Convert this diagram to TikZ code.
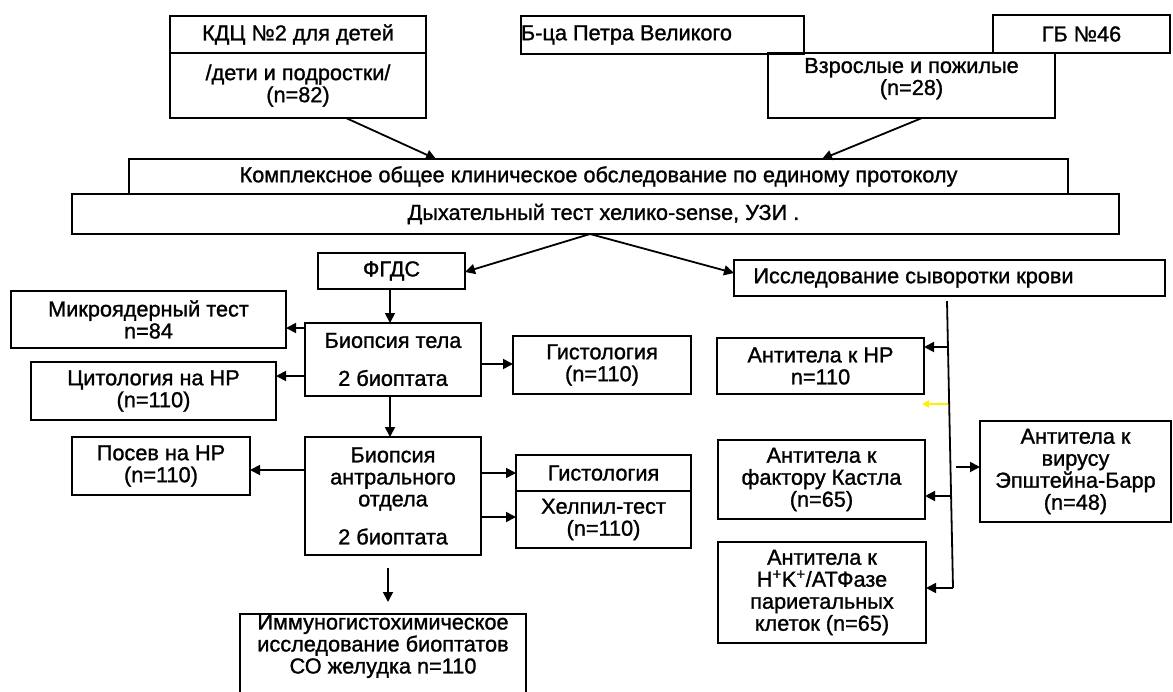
\documentclass[tikz,border=0pt]{standalone}
\usepackage{fontspec}
\setmainfont{Liberation Sans}
\newfontfamily\heavy{Liberation Sans}[BoldFont=Liberation Sans, BoldFeatures={FakeBold=1.2}]
\usetikzlibrary{arrows.meta}
\tikzset{
  box/.style={draw, line width=2pt, inner sep=0pt, outer sep=0pt, align=center,
    font=\heavy\bfseries\fontsize{21.7}{22}\selectfont},
  arr/.style={line width=1.8pt, -{Triangle[length=10pt,width=10pt]}},
  yarr/.style={line width=1.8pt, draw={rgb,255:red,255;green,240;blue,0}, -{Triangle[length=7pt,width=7pt]}},
}
\newcommand\mybox[7][]{%
  \pgfmathsetmacro\bw{#3-#2}\pgfmathsetmacro\bh{#5-#4}%
  \pgfmathsetmacro\bcx{(#2+#3)/2}\pgfmathsetmacro\bcy{-(#4+#5)/2}%
  \node[box,minimum width=\bw pt,minimum height=\bh pt,#1] (#6) at (\bcx pt,\bcy pt) {#7};}
\begin{document}
\begin{tikzpicture}[x=1pt,y=1pt]
\useasboundingbox (0,0) rectangle (1173,-691);
\clip (0,0) rectangle (1173,-691);
% top
\mybox{170}{426}{16}{53}{kdch}{КДЦ №2 для детей}
\mybox{170}{426}{53}{118}{kdcb}{/дети и подростки/\\(n=82)}
\mybox{523}{802}{16}{54}{bpv}{Б-ца Петра Великого\hspace{72pt}}
\mybox{993}{1170}{15}{53}{gb}{ГБ №46}
\mybox{768}{1055}{53}{118}{vzr}{Взрослые и пожилые\\(n=28)\\[-4pt]\mbox{}}
\mybox{129}{1068}{159}{194}{kompl}{Комплексное общее клиническое обследование по единому протоколу}
\mybox{72}{1119}{194}{234}{dyh}{\hspace{16pt}Дыхательный тест хелико-sense, УЗИ .}
% left column
\mybox{318}{465}{253}{289}{fgds}{ФГДС}
\mybox{11}{286}{291}{348}{mikro}{Микроядерный тест\\n=84}
\mybox{305}{481}{323}{396}{biot}{Биопсия тела\\[16pt]2 биоптата}
\mybox{31}{276}{362}{420}{cyto}{Цитология на HP\\(n=110)}
\mybox{513}{691}{336}{394}{hist1}{Гистология\\(n=110)}
\mybox{72}{250}{437}{495}{posev}{Посев на HP\\(n=110)}
\mybox{305}{481}{437}{555}{bioa}{Биопсия\\антрального\\отдела\\[16pt]2 биоптата}
\mybox{516}{691}{455}{491}{hist2}{Гистология}
\mybox{516}{691}{491}{548}{helpil}{Хелпил-тест\\(n=110)}
\mybox{240}{526}{614}{700}{immuno}{Иммуногистохимическое\\исследование биоптатов\\СО желудка n=110\\[4pt]\mbox{}}
% right column
\mybox{734}{1165}{260}{296}{issl}{Исследование сыворотки крови\hspace{72pt}}
\mybox{717}{924}{338}{394}{ahp}{Антитела к HP\\n=110}
\mybox{718}{925}{440}{519}{akastl}{Антитела к\\фактору Кастла\\(n=65)}
\mybox{980}{1171}{421}{522}{aeb}{Антитела к\\вирусу\\Эпштейна-Барр\\(n=48)}
\mybox{718}{926}{542}{643}{ahk}{Антитела к\\H\textsuperscript{+}K\textsuperscript{+}/АТФазе\\париетальных\\клеток (n=65)}
% connectors top
\draw[arr] (kdcb.south -| 346,0) -- (kompl.north -| 436,0);
\draw[arr] (vzr.south -| 922,0) -- (kompl.north -| 822,0);
\coordinate (d0) at (590,-234);
\draw[arr] (d0) -- (fgds.east |- 0,-272);
\draw[arr] (d0) -- (issl.west |- 0,-273);
% left connectors
\draw[arr] (fgds.south -| 390,0) -- (biot.north -| 390,0);
\draw[arr] (biot.west |- 0,-328) -- (mikro.east |- 0,-328);
\draw[arr] (biot.west |- 0,-376) -- (cyto.east |- 0,-376);
\draw[arr] (biot.east |- 0,-364) -- (hist1.west |- 0,-364);
\draw[arr] (biot.south -| 390,0) -- (bioa.north -| 390,0);
\draw[arr] (bioa.west |- 0,-470) -- (posev.east |- 0,-470);
\draw[arr] (bioa.east |- 0,-473) -- (hist2.west |- 0,-473);
\draw[arr] (bioa.east |- 0,-517) -- (helpil.west |- 0,-517);
\draw[arr] ([yshift=-13pt]bioa.south -| 388,0) -- ([yshift=12pt]immuno.north -| 388,0);
% right connectors
\coordinate (v1) at (947,-301);
\coordinate (v2) at (953,-588);
\draw[line width=1.8pt] (v1) -- (v2);
\draw[arr] (947.3,-347) -- (ahp.east |- 0,-347);
\draw[yarr] (947.7,-404) -- (922,-404);
\draw[arr] (956,-467) -- (aeb.west |- 0,-467);
\draw[arr] (950,-496) -- (akastl.east |- 0,-496);
\draw[arr] (v2) -- (ahk.east |- v2);
\end{tikzpicture}
\end{document}
